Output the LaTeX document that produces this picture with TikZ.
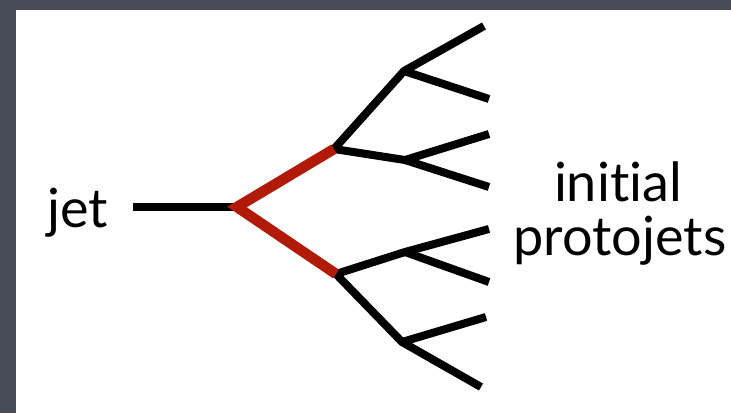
\documentclass[tikz,border=0pt]{standalone}
\usepackage{fontspec}
\setmainfont{Lato}[Ligatures=NoCommon]
\definecolor{slidegray}{RGB}{72,76,86}
\definecolor{treered}{RGB}{178,26,8}
\tikzset{
  branch/.style={line width=8pt,black,line join=miter},
  hardbranch/.style={line width=10.5pt,treered,line join=miter},
  biglabel/.style={font=\fontsize{54}{58}\selectfont,inner sep=0pt},
}

\begin{document}
\begin{tikzpicture}[x=1pt,y=-1pt]
% slide frame
\fill[slidegray] (0,0) rectangle (731,413);
\fill[white] (16,10) rectangle (731,413);
\useasboundingbox (0,0) rectangle (731,413);

% labels
\node[biglabel,anchor=base west] (jet) at (47,227) {jet};
\node[biglabel,anchor=base] (initial) at (618,201) {initial};
\node[biglabel,anchor=base] (protojets) at (620,255) {protojets};

% tree points
\coordinate (jetstart) at (133,207);
\coordinate (root) at (237,207);
\coordinate (a) at (334,149);
\coordinate (b) at (336,274);
\coordinate (aa) at (404,71);
\coordinate (ab) at (405,160);
\coordinate (ba) at (405,252);
\coordinate (bb) at (402,342);
\coordinate (aa1) at (484,26);
\coordinate (aa2) at (489,99);
\coordinate (ab1) at (489,134);
\coordinate (ab2) at (489,187);
\coordinate (ba1) at (489,229);
\coordinate (ba2) at (489,282);
\coordinate (bb1) at (486,317);
\coordinate (bb2) at (481,387);

% black tree
\draw[branch] (jetstart) -- (root);
\draw[branch] (root) -- (a) -- (aa) -- (aa1);
\draw[branch] (aa) -- (aa2);
\draw[branch] (a) -- (ab) -- (ab1);
\draw[branch] (ab) -- (ab2);
\draw[branch] (root) -- (b) -- (bb) -- (bb2);
\draw[branch] (bb) -- (bb1);
\draw[branch] (b) -- (ba) -- (ba1);
\draw[branch] (ba) -- (ba2);

% first splitting in red
\draw[hardbranch] (a) -- (root) -- (b);
\end{tikzpicture}
\end{document}
